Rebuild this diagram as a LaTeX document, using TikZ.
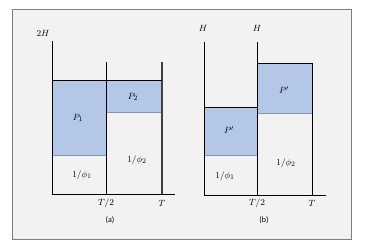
\documentclass[tikz,border=0pt]{standalone}
\usepackage{fontspec}
\newfontfamily\capfont{Carlito}
\usetikzlibrary{positioning}
\definecolor{panelbg}{RGB}{242, 242, 242}
\definecolor{framegray}{RGB}{127, 127, 127}
\definecolor{powerblue}{RGB}{180, 199, 231}
\definecolor{edgeblue}{RGB}{132, 151, 176}
\begin{document}
\begin{tikzpicture}[
        x=1pt, y=-1pt,
        axis/.style={draw=black, line width=1pt},
        bar/.style={fill=powerblue, draw=none},
        baredge/.style={draw=edgeblue, line width=1pt},
        lbl/.style={font=\fontsize{9.5}{11}\selectfont, inner sep=1pt},
        subcap/.style={font=\capfont\footnotesize, inner sep=1pt},
    ]
        \useasboundingbox (0,0) rectangle (366,250);
        \fill[white] (0,0) rectangle (366,250);
        \draw[fill=panelbg, draw=framegray, line width=0.8pt] (12,9.5) rectangle (351,239);

        % panel (a)
        \fill[bar] (52,80) rectangle (106,155);
        \fill[bar] (106,80) rectangle (162,112);
        \draw[baredge] (52,155) -- (106,155);
        \draw[baredge] (106,112) -- (162,112);
        \draw[axis] (52,41) -- (52,194) -- (175,194);
        \draw[axis] (106,62) -- (106,194);
        \draw[draw=black!75, line width=1.4pt] (162,62) -- (162,194);
        \draw[axis] (52,80) -- (162,80);

        \node[lbl] (ha) at (43,33) {$2H$};
        \node[lbl] (pone) at (78,118) {$P_1$};
        \node[lbl] (ptwo) at (133,97) {$P_2$};
        \node[lbl] (phione) at (82,175) {$1/\phi_1$};
        \node[lbl] (phitwo) at (137,160) {$1/\phi_2$};
        \node[lbl] (halfa) at (106,203) {$T/2$};
        \node[lbl] (enda) at (162,203) {$T$};
        \node[subcap] (capa) at (110,220) {(a)};

        % panel (b)
        \fill[bar] (204,107) rectangle (257,155);
        \fill[bar] (257,63) rectangle (312,113);
        \draw[baredge] (204,155) -- (257,155);
        \draw[baredge] (257,113) -- (312,113);
        \draw[axis] (204,42) -- (204,195) -- (326,195);
        \draw[axis] (257,42) -- (257,195);
        \draw[axis] (312,63) -- (312,195);
        \draw[axis] (204,107) -- (257,107);
        \draw[axis] (257,63) -- (312,63);

        \node[lbl] (hb) at (203,28) {$H$};
        \node[lbl] (hc) at (257,28) {$H$};
        \node[lbl] (pleft) at (229,130) {$P'$};
        \node[lbl] (pright) at (284,90) {$P'$};
        \node[lbl] (phithree) at (225,176) {$1/\phi_1$};
        \node[lbl] (phifour) at (286,163) {$1/\phi_2$};
        \node[lbl] (halfb) at (257,203) {$T/2$};
        \node[lbl] (endb) at (312,203) {$T$};
        \node[subcap] (capb) at (264,220) {(b)};
    \end{tikzpicture}
\end{document}
